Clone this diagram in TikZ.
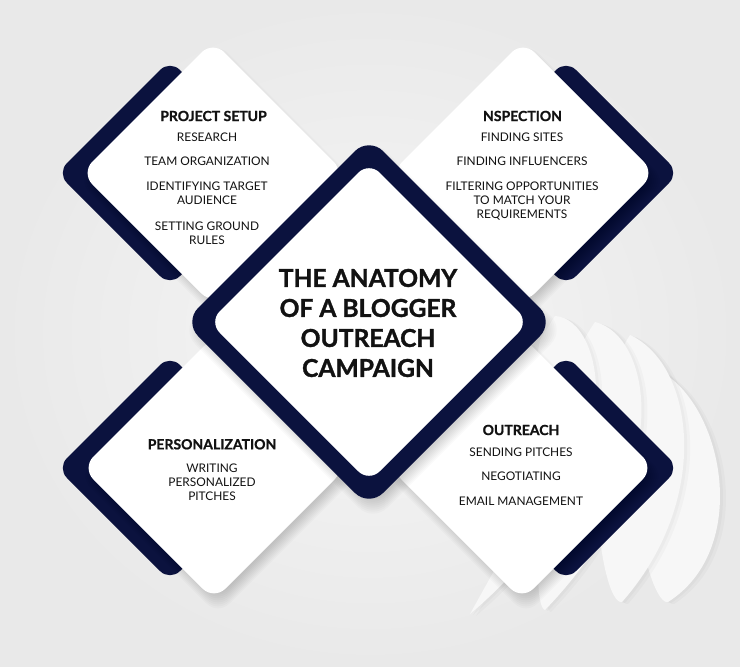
\documentclass[tikz,border=0pt]{standalone}
\usepackage{fontspec}
\setmainfont{Lato}
\newfontfamily\heavyfont{Lato}[UprightFont={* Bold}, FakeBold=1.3]
\newfontfamily\semiheavyfont{Lato}[UprightFont={* Bold}, FakeBold=1.0]
\definecolor{navy}{RGB}{11,18,62}
\definecolor{bgin}{RGB}{246,246,246}
\definecolor{bgout}{RGB}{233,233,233}
\definecolor{ink}{RGB}{18,18,18}
\definecolor{finc}{RGB}{247,247,247}
\newcommand\Dmd[5]{\path[#4, rounded corners=#5] ({(#1)-(#3)/2},{(#2)-(#3)/2}) -- ({#1},{(#2)-(#3)}) -- ({(#1)+(#3)},{#2}) -- ({#1},{(#2)+(#3)}) -- ({(#1)-(#3)},{#2}) -- cycle;}
\newcommand\Shad[4]{\foreach \k in {1,...,9}{\Dmd{#1+4}{#2+8}{#3+9-2*\k}{fill=black, fill opacity=0.02}{#4}}}
\newcommand\Fin[1]{%
  \path[fill=black, fill opacity=0.025, xshift=6pt, yshift=-2pt] #1;
  \path[fill=black, fill opacity=0.025, xshift=3pt, yshift=-1pt] #1;
  \path[fill=finc] #1;}
\tikzset{
  cardtitle/.style={font=\semiheavyfont\fontsize{14}{17}\selectfont, text=ink, inner sep=0pt},
  item/.style={font=\fontsize{11.9}{14}\selectfont, text=ink, align=center, inner sep=0pt},
  maintitle/.style={font=\heavyfont\fontsize{24.6}{30}\selectfont, text=ink, align=center, inner sep=0pt}
}
\begin{document}
\begin{tikzpicture}[x=1pt,y=-1pt]
\useasboundingbox (0,0) rectangle (740,667);
\shade[inner color=bgin, outer color=bgout] (0,0) rectangle (740,667);
% decorative fan of blades (outermost first)
\Fin{(662,372) .. controls (725,410) and (750,550) .. (668,602) .. controls (648,606) and (612,450) .. (662,372) -- cycle}
\Fin{(630,335) .. controls (695,365) and (712,500) .. (622,602) .. controls (600,606) and (575,420) .. (630,335) -- cycle}
\Fin{(595,322) .. controls (650,335) and (680,470) .. (545,610) .. controls (528,606) and (540,400) .. (595,322) -- cycle}
\Fin{(555,316) .. controls (605,318) and (640,470) .. (470,614) -- (500,560) -- (540,340) -- cycle}
% navy backings
\Dmd{170}{173}{113}{fill=navy}{14}
\Dmd{566}{173}{113}{fill=navy}{14}
\Dmd{170}{468}{113}{fill=navy}{14}
\Dmd{566}{468}{113}{fill=navy}{14}
% white cards with soft shadows
\Shad{213}{173}{132}{16}
\Shad{523}{173}{132}{16}
\Shad{214}{468}{132}{16}
\Shad{522}{468}{132}{16}
\Dmd{213}{173}{132}{fill=white}{16}
\Dmd{523}{173}{132}{fill=white}{16}
\Dmd{214}{468}{132}{fill=white}{16}
\Dmd{522}{468}{132}{fill=white}{16}
% central diamond
\Shad{369}{322}{185}{20}
\Dmd{369}{322}{185}{fill=navy}{20}
\Dmd{369}{322}{160}{fill=white}{15}
% texts
\node[maintitle] (title) at (368,323) {THE ANATOMY\\OF A BLOGGER\\OUTREACH\\CAMPAIGN};
\node[cardtitle] (ps) at (213.5,116) {PROJECT SETUP};
\node[item] (ps1) at (207,137.7) {RESEARCH};
\node[item] (ps2) at (207,161.7) {TEAM ORGANIZATION};
\node[item] (ps3) at (207,193.7) {IDENTIFYING TARGET\\AUDIENCE};
\node[item] (ps4) at (207,232.9) {SETTING GROUND\\RULES};
\node[cardtitle] (ns) at (522.5,116) {NSPECTION};
\node[item] (ns1) at (522,137.7) {FINDING SITES};
\node[item] (ns2) at (522,161.7) {FINDING INFLUENCERS};
\node[item] (ns3) at (522,200.8) {FILTERING OPPORTUNITIES\\TO MATCH YOUR\\REQUIREMENTS};
\node[cardtitle] (pe) at (212,444.3) {PERSONALIZATION};
\node[item] (pe1) at (212,482.1) {WRITING\\PERSONALIZED\\PITCHES};
\node[cardtitle] (ou) at (521,430) {OUTREACH};
\node[item] (ou1) at (521,452.7) {SENDING PITCHES};
\node[item] (ou2) at (521,476.7) {NEGOTIATING};
\node[item] (ou3) at (521,501.7) {EMAIL MANAGEMENT};
\end{tikzpicture}
\end{document}
